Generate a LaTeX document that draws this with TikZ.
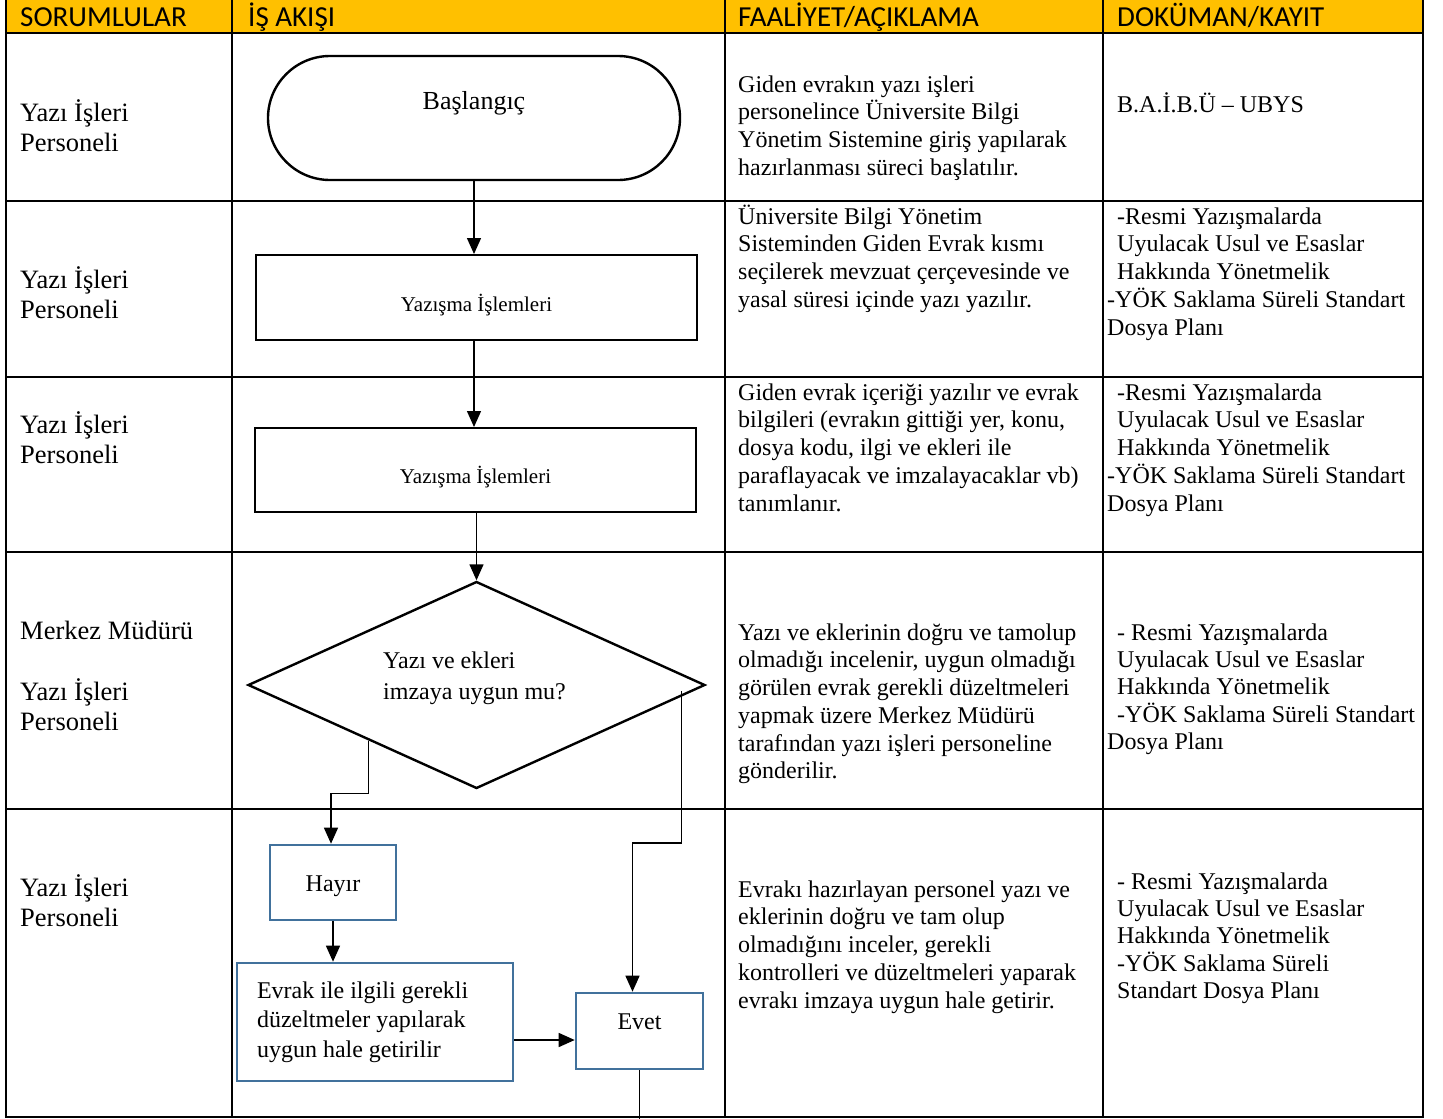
\documentclass[tikz,border=0pt]{standalone}
\usepackage{fontspec}
\setmainfont{Liberation Serif}
\newfontfamily\hdrfont{Carlito}
\usetikzlibrary{arrows.meta,shapes.geometric,calc}
\definecolor{hdryellow}{HTML}{FFC000}
\definecolor{boxblue}{HTML}{41719C}
\begin{document}
\begin{tikzpicture}[x=1pt,y=-1pt,
  grid/.style={line width=2.8pt,line cap=rect},
  hdr/.style={anchor=base west,inner sep=0pt,font=\hdrfont\fontsize{29}{33}\selectfont},
  role/.style={anchor=north west,inner sep=0pt,align=left,font=\fontsize{26.5}{30}\selectfont},
  desc/.style={anchor=north west,inner sep=0pt,align=left,font=\fontsize{24}{27.7}\selectfont},
  blackbox/.style={draw,line width=2pt,inner sep=0pt},
  bluebox/.style={draw=boxblue,line width=2.6pt,inner sep=0pt,font=\fontsize{24}{28}\selectfont},
  conn/.style={line width=1.4pt,-{Triangle[length=16pt,width=14pt]}},
  plain/.style={line width=1.4pt}
]
\useasboundingbox (0,0) rectangle (1443,1119);
% header
\fill[hdryellow] (6,0) rectangle (1423,33);
% grid
\draw[grid] (6,0) -- (6,1117) -- (1423,1117) -- (1423,0);
\foreach \x in {232,725,1103} \draw[grid] (\x,0) -- (\x,1117);
\foreach \y in {33,201,377,552,809} \draw[grid] (6,\y) -- (1423,\y);
% header texts
\node[hdr] (h1) at (20,26) {SORUMLULAR};
\node[hdr] (h2) at (248,26) {İŞ AKIŞI};
\node[hdr] (h3) at (738,26) {FAALİYET/AÇIKLAMA};
\node[hdr] (h4) at (1117,26) {DOKÜMAN/KAYIT};
% roles
\node[role] (r1) at (20,97) {\rule{0pt}{24pt}Yazı İşleri\\Personeli};
\node[role] (r2) at (20,264) {\rule{0pt}{24pt}Yazı İşleri\\Personeli};
\node[role] (r3) at (20,409) {\rule{0pt}{24pt}Yazı İşleri\\Personeli};
\node[role] (r4) at (20,615) {\rule{0pt}{24pt}Merkez Müdürü\\[31pt]Yazı İşleri\\Personeli};
\node[role] (r5) at (20,872) {\rule{0pt}{24pt}Yazı İşleri\\Personeli};
% descriptions
\node[desc] (d1) at (738,70) {\rule{0pt}{22pt}Giden evrakın yazı işleri\\personelince Üniversite Bilgi\\Yönetim Sistemine giriş yapılarak\\hazırlanması süreci başlatılır.};
\node[desc] (d2) at (738,202) {\rule{0pt}{22pt}Üniversite Bilgi Yönetim\\Sisteminden Giden Evrak kısmı\\seçilerek mevzuat çerçevesinde ve\\yasal süresi içinde yazı yazılır.};
\node[desc] (d3) at (738,378) {\rule{0pt}{22pt}Giden evrak içeriği yazılır ve evrak\\bilgileri (evrakın gittiği yer, konu,\\dosya kodu, ilgi ve ekleri ile\\paraflayacak ve imzalayacaklar vb)\\tanımlanır.};
\node[desc] (d4) at (738,618) {\rule{0pt}{22pt}Yazı ve eklerinin doğru ve tamolup\\olmadığı incelenir, uygun olmadığı\\görülen evrak gerekli düzeltmeleri\\yapmak üzere Merkez Müdürü\\tarafından yazı işleri personeline\\gönderilir.};
\node[desc] (d5) at (738,875) {\rule{0pt}{22pt}Evrakı hazırlayan personel yazı ve\\eklerinin doğru ve tam olup\\olmadığını inceler, gerekli\\kontrolleri ve düzeltmeleri yaparak\\evrakı imzaya uygun hale getirir.};
% documents
\node[desc] (k1) at (1117,90) {\rule{0pt}{22pt}B.A.İ.B.Ü – UBYS};
\node[desc] (k2) at (1107,202) {\rule{0pt}{22pt}\hspace{10pt}-Resmi Yazışmalarda\\\hspace{10pt}Uyulacak Usul ve Esaslar\\\hspace{10pt}Hakkında Yönetmelik\\-YÖK Saklama Süreli Standart\\Dosya Planı};
\node[desc] (k3) at (1107,378) {\rule{0pt}{22pt}\hspace{10pt}-Resmi Yazışmalarda\\\hspace{10pt}Uyulacak Usul ve Esaslar\\\hspace{10pt}Hakkında Yönetmelik\\-YÖK Saklama Süreli Standart\\Dosya Planı};
\node[desc,font=\fontsize{24}{27.3}\selectfont] (k4) at (1107,618) {\rule{0pt}{22pt}\hspace{10pt}- Resmi Yazışmalarda\\\hspace{10pt}Uyulacak Usul ve Esaslar\\\hspace{10pt}Hakkında Yönetmelik\\\hspace{10pt}-YÖK Saklama Süreli Standart\\Dosya Planı};
\node[desc,font=\fontsize{24}{27.3}\selectfont] (k5) at (1117,867) {\rule{0pt}{22pt}- Resmi Yazışmalarda\\Uyulacak Usul ve Esaslar\\Hakkında Yönetmelik\\-YÖK Saklama Süreli\\Standart Dosya Planı};
% flow shapes
\node[draw,line width=2.4pt,rounded corners=62pt,minimum width=412pt,minimum height=124pt,inner sep=0pt,text height=10pt,text depth=28pt,font=\fontsize{26}{30}\selectfont] (start) at (474,118) {Başlangıç};
\node[blackbox,minimum width=441pt,minimum height=85pt,text height=30pt,text depth=3pt,font=\fontsize{21}{25}\selectfont] (box1) at (476.5,297.5) {Yazışma İşlemleri};
\node[blackbox,minimum width=441pt,minimum height=84pt,text height=29pt,text depth=3pt,font=\fontsize{21}{25}\selectfont] (box2) at (475.5,470) {Yazışma İşlemleri};
\node[diamond,draw,line width=2.4pt,minimum width=457pt,minimum height=207pt,inner sep=0pt] (dia) at (476.5,685) {};
\node[anchor=north west,inner sep=0pt,align=left,font=\fontsize{24}{31}\selectfont] (diatxt) at (383,646) {\rule{0pt}{22pt}Yazı ve ekleri\\imzaya uygun mu?};
\node[bluebox,minimum width=126pt,minimum height=75pt,text height=20pt,text depth=3pt] (hayir) at (333,882.5) {Hayır};
\node[bluebox,text width=236pt,inner xsep=20pt,inner ysep=0pt,align=flush left,minimum width=276pt,minimum height=118pt,text height=18pt,text depth=66pt,font=\fontsize{24}{29.5}\selectfont] (evrak) at (375,1022) {Evrak ile ilgili gerekli\\düzeltmeler yapılarak\\uygun hale getirilir};
\node[bluebox,minimum width=127pt,minimum height=76pt,text height=18pt,text depth=22pt] (evet) at (639.5,1031) {Evet};
% connectors
\coordinate (nostart) at ($(dia.west)!0.53!(dia.south)$);
\coordinate (yesstart) at ($(dia.east)+(-25,6)$);
\coordinate (evend) at ($(evet.south)+(0,60)$);
\draw[conn] (start.south) -- (start.south |- box1.north);
\draw[conn] (start.south |- box1.south) -- (start.south |- box2.north);
\draw[conn] (dia.north |- box2.south) -- (dia.north);
\draw[conn] (nostart) -- ++(0,53) -| ([xshift=-2pt]hayir.north);
\draw[conn] (yesstart) -- ++(0,152) -| ([xshift=-7pt]evet.north);
\draw[conn] (hayir.south) -- (hayir.south |- evrak.north);
\draw[conn] ([yshift=-18pt]evrak.east) -- ([yshift=-9pt]evet.west);
\draw[plain] (evet.south) -- (evend);
\end{tikzpicture}
\end{document}
